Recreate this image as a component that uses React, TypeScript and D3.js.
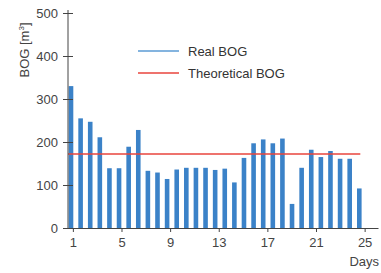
import React from "react";
import * as d3 from "d3";

// Daily BOG samples (m³)
const realBog = [
  330, 255, 247, 211, 139, 139, 189, 228, 133, 129, 114, 136, 140, 140, 140,
  135, 138, 106, 163, 197, 206, 197, 208, 56, 140, 182, 165, 179, 161, 161, 92,
];
const theoreticalBog = 172;
const dayTicks = [1, 5, 9, 13, 17, 21, 25];
const bogTicks = [0, 100, 200, 300, 400, 500];
const legendItems = [
  { label: "Real BOG", color: "#5b9bd5" },
  { label: "Theoretical BOG", color: "#e8453c" },
];

const W = 381;
const H = 273;
const FONT = "'Liberation Sans', Arial, sans-serif";
const AXIS_COLOR = "#444";
const BAR_COLOR = "#3b82c8";

export default function App() {
  const xAxisRef = React.useRef<SVGGElement>(null);
  const yAxisRef = React.useRef<SVGGElement>(null);

  // axis scale for days, bar scale for the samples
  const x = d3.scaleLinear().domain([0.6, 26.1]).range([68, 378]);
  const xBars = d3
    .scalePoint<number>()
    .domain(realBog.map((_, i) => i))
    .range([71, 359.3]);
  const y = d3.scaleLinear().domain([0, 500]).range([228, 13]);

  const barWidth = 4.6;

  React.useEffect(() => {
    const gx = d3.select(xAxisRef.current!);
    gx.selectAll("*").remove();
    gx.call(
      d3.axisBottom(x).tickValues(dayTicks).tickSize(4).tickPadding(6).tickSizeOuter(0)
    );
    gx.select(".domain").attr("stroke", AXIS_COLOR);
    gx.selectAll(".tick line").attr("stroke", AXIS_COLOR);
    gx.selectAll(".tick text")
      .attr("fill", AXIS_COLOR)
      .style("font-size", "13px")
      .style("font-family", FONT);

    const gy = d3.select(yAxisRef.current!);
    gy.selectAll("*").remove();
    gy.call(d3.axisLeft(y).tickValues(bogTicks).tickSize(5).tickPadding(5).tickSizeOuter(0));
    gy.select(".domain").attr("stroke", AXIS_COLOR).attr("d", `M0,${y(500) - 3}V${y(0)}`);
    // ticks cross the axis
    gy.selectAll(".tick line").attr("stroke", AXIS_COLOR).attr("x1", 5);
    gy.selectAll(".tick text")
      .attr("fill", AXIS_COLOR)
      .style("font-size", "13px")
      .style("font-family", FONT);
  }, []);

  return (
    <svg
      width={W}
      height={H}
      style={{ position: "absolute", left: 0, top: 0, background: "#fff" }}
      fontFamily={FONT}
    >
      {realBog.map((v, i) => (
        <rect
          key={i}
          x={xBars(i)! - barWidth / 2}
          y={y(v)}
          width={barWidth}
          height={y(0) - y(v)}
          fill={BAR_COLOR}
        />
      ))}
      <line
        x1={68}
        x2={xBars(realBog.length - 1)! + 1}
        y1={y(theoreticalBog)}
        y2={y(theoreticalBog)}
        stroke="#e8453c"
        strokeWidth={1.6}
      />
      <g ref={xAxisRef} transform={`translate(0,${y(0)})`} />
      <g ref={yAxisRef} transform={`translate(${x.range()[0]},0)`} />

      <text
        transform="translate(29,50) rotate(-90)"
        textAnchor="middle"
        fontSize={13}
        fill={AXIS_COLOR}
      >
        BOG [m<tspan dy={-5} fontSize={8}>3</tspan>
        <tspan dy={5}>]</tspan>
      </text>
      <text x={379} y={266} textAnchor="end" fontSize={13} fill={AXIS_COLOR}>
        Days
      </text>

      {legendItems.map((item, i) => (
        <g key={item.label} transform={`translate(138,${51 + i * 22})`}>
          <line x1={0} x2={41} y1={0} y2={0} stroke={item.color} strokeWidth={1.6} />
          <text x={50} y={5} fontSize={13} fill="#333">
            {item.label}
          </text>
        </g>
      ))}
    </svg>
  );
}
